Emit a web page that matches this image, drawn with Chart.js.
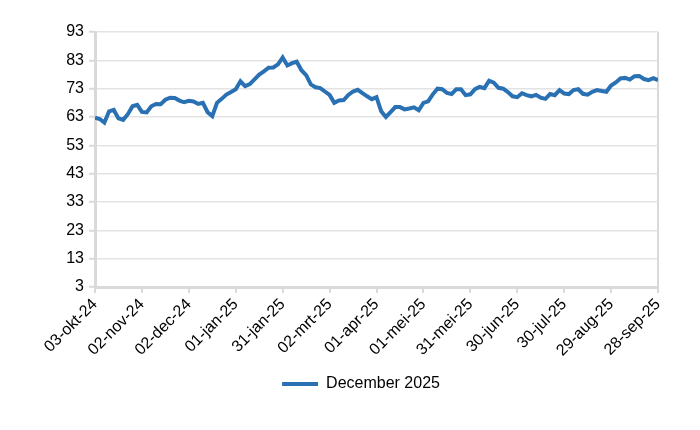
<!DOCTYPE html>
<html>
<head>
<meta charset="utf-8">
<script src="https://cdn.jsdelivr.net/npm/chart.js@4"></script>
<style>
  html, body { margin: 0; padding: 0; background: #fff; }
  canvas { display: block; }
</style>
</head>
<body>
<canvas id="chart" width="700" height="430"></canvas>
<script>
// series, one value every 3 days from 03-okt-24
const seriesLabel = 'December 2025';
const stepDays = 3;
const values = [
  62.8, 62.3, 61.0, 65.0, 65.5, 62.5, 62.0, 64.0, 66.8, 67.3,
  64.8, 64.6, 66.8, 67.6, 67.5, 69.1, 69.8, 69.7, 68.8, 68.2,
  68.7, 68.5, 67.6, 68.0, 64.7, 63.3, 68.0, 69.4, 70.9, 71.8,
  72.8, 75.6, 73.9, 74.6, 76.3, 78.0, 79.1, 80.4, 80.5, 81.6,
  84.0, 81.2, 82.0, 82.5, 79.5, 77.8, 74.5, 73.5, 73.2, 72.0,
  70.8, 68.0, 68.8, 69.0, 70.8, 72.0, 72.6, 71.4, 70.3, 69.3,
  70.0, 65.0, 63.0, 64.7, 66.5, 66.5, 65.7, 66.0, 66.4, 65.4,
  68.0, 68.5, 71.0, 73.0, 72.8, 71.5, 71.1, 72.8, 72.8, 70.7,
  71.0, 72.8, 73.6, 73.2, 75.8, 75.1, 73.3, 73.0, 71.8, 70.3,
  70.0, 71.4, 70.7, 70.3, 70.8, 69.8, 69.4, 71.1, 70.7, 72.5,
  71.3, 71.1, 72.5, 72.8, 71.2, 70.9, 71.9, 72.5, 72.2, 71.9,
  74.1, 75.2, 76.6, 76.8, 76.2, 77.4, 77.5, 76.4, 76.0, 76.7,
  76.0
];
const xTickLabels = [
  '03-okt-24', '02-nov-24', '02-dec-24', '01-jan-25', '31-jan-25', '02-mrt-25',
  '01-apr-25', '01-mei-25', '31-mei-25', '30-jun-25', '30-jul-25', '29-aug-25', '28-sep-25'
];
const xTickStep = 30;
const yMin = 3;
const yMax = 93;
const yStep = 10;

const points = values.map((v, i) => ({ x: i * stepDays, y: v }));
const axisGrey = '#d9d9d9';
const font = { family: '"Liberation Sans", Arial, sans-serif', size: 16 };

new Chart(document.getElementById('chart'), {
  type: 'line',
  data: {
    datasets: [{
      label: seriesLabel,
      data: points,
      borderColor: '#2a71b3',
      backgroundColor: '#2a71b3',
      borderWidth: 4,
      pointRadius: 0,
      tension: 0
    }]
  },
  options: {
    responsive: false,
    animation: false,
    devicePixelRatio: 1,
    layout: { padding: { top: 32, right: 42, bottom: 28, left: 64 } },
    scales: {
      x: {
        type: 'linear',
        min: 0,
        max: (xTickLabels.length - 1) * xTickStep,
        afterFit: s => { s.height = 79; },
        border: { color: axisGrey, width: 3 },
        grid: {
          color: c => c.index === xTickLabels.length - 1 ? axisGrey : 'rgba(0,0,0,0)',
          lineWidth: 2,
          tickColor: axisGrey,
          tickLength: 6,
          tickWidth: 2
        },
        ticks: {
          stepSize: xTickStep,
          autoSkip: false,
          maxRotation: 45,
          minRotation: 45,
          color: '#000',
          font: font,
          padding: 2,
          callback: v => xTickLabels[Math.round(v / xTickStep)]
        }
      },
      y: {
        min: yMin,
        max: yMax,
        afterFit: s => { s.width = 31; },
        border: { color: axisGrey, width: 3 },
        grid: {
          color: '#e3e3e3',
          lineWidth: 1.5,
          tickColor: axisGrey,
          tickLength: 6,
          tickWidth: 2
        },
        ticks: {
          stepSize: yStep,
          color: '#000',
          font: font,
          padding: 5
        }
      }
    },
    plugins: {
      tooltip: { enabled: false },
      legend: {
        position: 'bottom',
        labels: {
          color: '#000',
          font: font,
          usePointStyle: true,
          pointStyle: 'line',
          pointStyleWidth: 36,
          padding: 10
        }
      }
    }
  }
});
</script>
</body>
</html>
